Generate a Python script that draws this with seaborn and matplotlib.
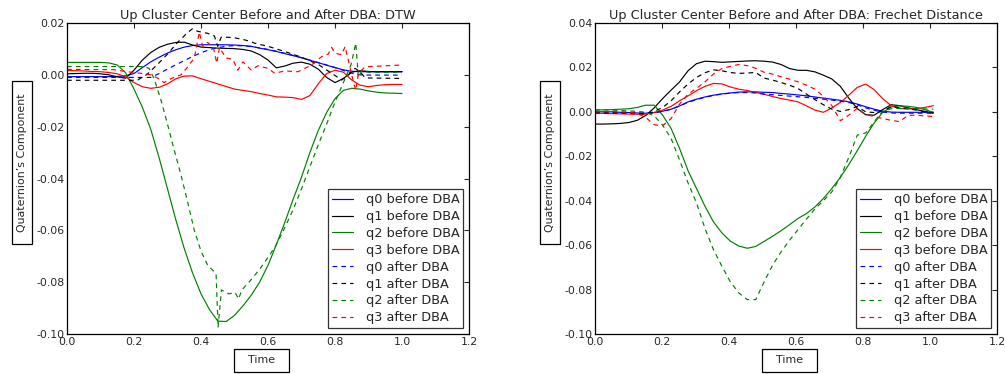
"""
Up cluster center before / after DBA (DTW vs Frechet)
"""

import matplotlib
matplotlib.use("Agg")
import matplotlib.pyplot as plt
import seaborn as sns

# ---- data ----
# shared time grid, 0 ~ 1 step 0.025 (Frechet curves run a bit past 1.0)
time_grid = [round(i * 0.025, 3) for i in range(41)]
time_grid_fr = [round(i * 0.025 * 1.01, 4) for i in range(41)]

# DTW panel
dtw_q0_before = [-0.0007, -0.0007, -0.0007, -0.0007, -0.0007, -0.0007, -0.0006, -0.0004, 0.0005, 0.0028,
                 0.0050, 0.0068, 0.0084, 0.0097, 0.0107, 0.0113, 0.0116, 0.0116, 0.0116, 0.0116,
                 0.0115, 0.0113, 0.0110, 0.0103, 0.0097, 0.0090, 0.0082, 0.0074, 0.0066, 0.0056,
                 0.0047, 0.0037, 0.0028, 0.0019, 0.0014, 0.0012, 0.0012, 0.0012, 0.0012, 0.0012,
                 0.0012]
dtw_q1_before = [0.0004, 0.0005, 0.0006, 0.0006, 0.0004, 0.0000, -0.0008, -0.0013, 0.0018, 0.0057,
                 0.0086, 0.0106, 0.0118, 0.0125, 0.0126, 0.0115, 0.0107, 0.0105, 0.0103, 0.0102,
                 0.0101, 0.0098, 0.0092, 0.0078, 0.0057, 0.0027, 0.0034, 0.0045, 0.0049, 0.0041,
                 0.0022, -0.0010, -0.0030, -0.0014, 0.0010, 0.0016, 0.0013, 0.0012, 0.0012, 0.0012,
                 0.0012]
dtw_q2_before = [0.0048, 0.0048, 0.0048, 0.0048, 0.0048, 0.0046, 0.0038, 0.0008, -0.0055, -0.0125,
                 -0.0210, -0.0320, -0.0440, -0.0560, -0.0670, -0.0765, -0.0845, -0.0905, -0.0950, -0.0952,
                 -0.0928, -0.0892, -0.0850, -0.0800, -0.0735, -0.0655, -0.0570, -0.0480, -0.0395, -0.0300,
                 -0.0215, -0.0145, -0.0092, -0.0060, -0.0052, -0.0055, -0.0062, -0.0067, -0.0070, -0.0071,
                 -0.0072]
dtw_q3_before = [0.0017, 0.0016, 0.0015, 0.0013, 0.0012, 0.0009, 0.0004, -0.0008, -0.0030, -0.0046,
                 -0.0052, -0.0048, -0.0035, -0.0015, -0.0005, -0.0004, -0.0015, -0.0025, -0.0035, -0.0045,
                 -0.0055, -0.0060, -0.0065, -0.0072, -0.0078, -0.0085, -0.0086, -0.0088, -0.0095, -0.0080,
                 -0.0035, 0.0005, 0.0018, 0.0010, -0.0020, -0.0040, -0.0046, -0.0041, -0.0038, -0.0037,
                 -0.0037]
dtw_q0_after = [-0.0010, -0.0010, -0.0010, -0.0010, -0.0010, -0.0010, -0.0010, -0.0010, -0.0010, -0.0010,
                -0.0010, 0.0005, 0.0022, 0.0039, 0.0055, 0.0071, 0.0085, 0.0097, 0.0105, 0.0110,
                0.0113, 0.0112, 0.0109, 0.0104, 0.0098, 0.0091, 0.0083, 0.0075, 0.0066, 0.0057,
                0.0047, 0.0038, 0.0028, 0.0017, 0.0006, 0.0000, -0.0001, -0.0001, -0.0001, -0.0001,
                -0.0001]
# after-DBA curves on DTW are jagged, they get their own time points
dtw_q1_after_t = [0.0, 0.21, 0.24, 0.27, 0.30, 0.33, 0.36, 0.375, 0.39, 0.42,
                  0.44, 0.45, 0.46, 0.48, 0.50, 0.53, 0.55, 0.56, 0.60, 0.65,
                  0.70, 0.75, 0.79, 0.82, 0.84, 0.86, 0.875, 0.89, 1.0]
dtw_q1_after = [-0.0021, -0.0021, 0.0003, 0.0040, 0.0080, 0.0125, 0.0163, 0.0178, 0.0168, 0.0160,
                0.0150, 0.0110, 0.0145, 0.0145, 0.0143, 0.0135, 0.0128, 0.0122, 0.0110, 0.0090,
                0.0068, 0.0040, 0.0006, -0.0020, 0.0000, 0.0025, 0.0012, -0.0012, -0.0014]
dtw_q2_after_t = [0.0, 0.23, 0.245, 0.26, 0.28, 0.30, 0.32, 0.34, 0.36, 0.38,
                  0.40, 0.42, 0.445, 0.451, 0.461, 0.483, 0.502, 0.512, 0.522, 0.55,
                  0.575, 0.60, 0.625, 0.65, 0.675, 0.70, 0.725, 0.75, 0.775, 0.80,
                  0.82, 0.835, 0.848, 0.862, 0.870, 0.88, 0.9, 1.0]
dtw_q2_after = [0.0032, 0.0032, 0.0025, -0.0015, -0.0095, -0.0190, -0.0290, -0.0385, -0.0490, -0.0600,
                -0.0680, -0.0735, -0.0767, -0.0975, -0.0830, -0.0845, -0.0840, -0.0865, -0.0830, -0.0790,
                -0.0750, -0.0705, -0.0655, -0.0590, -0.0520, -0.0440, -0.0355, -0.0270, -0.0190, -0.0105,
                -0.0045, 0.0000, 0.0040, 0.0122, -0.0010, 0.0015, 0.0010, 0.0009]
dtw_q3_after_t = [0.0, 0.14, 0.18, 0.22, 0.25, 0.27, 0.29, 0.31, 0.34, 0.36,
                  0.38, 0.395, 0.405, 0.42, 0.437, 0.447, 0.455, 0.475, 0.495, 0.51,
                  0.525, 0.55, 0.57, 0.6, 0.62, 0.65, 0.69, 0.73, 0.76, 0.78,
                  0.79, 0.80, 0.82, 0.83, 0.84, 0.856, 0.862, 0.87, 0.89, 1.0]
dtw_q3_after = [0.0021, 0.0020, 0.0012, 0.0006, 0.0000, -0.0012, -0.0030, -0.0015, 0.0000, 0.0030,
                0.0065, 0.0165, 0.0110, 0.0125, 0.0105, 0.0045, 0.0105, 0.0065, 0.0060, 0.0018,
                0.0050, 0.0018, 0.0035, 0.0025, 0.0006, 0.0015, 0.0012, 0.0038, 0.0070, 0.0080,
                0.0106, 0.0083, 0.0078, 0.0109, 0.0055, -0.0033, -0.0060, 0.0006, 0.0031, 0.0038]

# Frechet panel
fr_q0_before = [0.0000, 0.0000, 0.0000, -0.0002, -0.0003, -0.0005, -0.0006, -0.0003, 0.0003, 0.0012,
                0.0027, 0.0045, 0.0057, 0.0067, 0.0075, 0.0081, 0.0085, 0.0089, 0.0090, 0.0090,
                0.0088, 0.0087, 0.0083, 0.0080, 0.0076, 0.0072, 0.0067, 0.0062, 0.0057, 0.0052,
                0.0045, 0.0035, 0.0023, 0.0012, 0.0003, -0.0001, -0.0002, -0.0002, -0.0002, -0.0002,
                -0.0002]
fr_q1_before = [-0.0055, -0.0055, -0.0054, -0.0052, -0.0048, -0.0038, -0.0016, 0.0018, 0.0060, 0.0098,
                0.0135, 0.0185, 0.0217, 0.0228, 0.0226, 0.0223, 0.0225, 0.0227, 0.0229, 0.0230,
                0.0228, 0.0224, 0.0213, 0.0195, 0.0187, 0.0187, 0.0180, 0.0165, 0.0148, 0.0115,
                0.0062, 0.0015, -0.0013, -0.0015, 0.0010, 0.0032, 0.0028, 0.0018, 0.0010, 0.0002,
                -0.0005]
fr_q2_before = [0.0008, 0.0009, 0.0010, 0.0012, 0.0014, 0.0020, 0.0030, 0.0030, -0.0015, -0.0075,
                -0.0165, -0.0265, -0.0345, -0.0425, -0.0495, -0.0545, -0.0582, -0.0604, -0.0614, -0.0606,
                -0.0583, -0.0560, -0.0535, -0.0508, -0.0480, -0.0458, -0.0428, -0.0390, -0.0345, -0.0295,
                -0.0238, -0.0175, -0.0110, -0.0050, -0.0003, 0.0022, 0.0027, 0.0025, 0.0020, 0.0010,
                -0.0002]
fr_q3_before = [-0.0006, -0.0007, -0.0008, -0.0009, -0.0010, -0.0011, -0.0010, -0.0003, 0.0008, 0.0025,
                0.0050, 0.0072, 0.0095, 0.0115, 0.0128, 0.0126, 0.0112, 0.0102, 0.0096, 0.0087,
                0.0079, 0.0069, 0.0060, 0.0053, 0.0045, 0.0027, 0.0008, -0.0002, 0.0018, 0.0042,
                0.0075, 0.0110, 0.0125, 0.0100, 0.0060, 0.0028, 0.0015, 0.0013, 0.0015, 0.0020,
                0.0028]
fr_q0_after = [-0.0002, -0.0002, -0.0002, -0.0003, -0.0004, -0.0005, -0.0006, -0.0004, 0.0002, 0.0012,
               0.0026, 0.0043, 0.0055, 0.0066, 0.0074, 0.0080, 0.0084, 0.0087, 0.0087, 0.0085,
               0.0080, 0.0077, 0.0074, 0.0071, 0.0068, 0.0065, 0.0061, 0.0057, 0.0053, 0.0048,
               0.0042, 0.0032, 0.0018, 0.0007, -0.0001, -0.0005, -0.0006, -0.0006, -0.0006, -0.0006,
               -0.0006]
fr_q1_after = [-0.0005, -0.0005, -0.0005, -0.0006, -0.0006, -0.0008, -0.0010, 0.0002, 0.0020, 0.0050,
               0.0090, 0.0125, 0.0155, 0.0176, 0.0189, 0.0185, 0.0177, 0.0173, 0.0175, 0.0177,
               0.0152, 0.0143, 0.0132, 0.0120, 0.0105, 0.0080, 0.0055, 0.0032, 0.0012, 0.0002,
               0.0010, 0.0024, 0.0000, -0.0003, 0.0002, 0.0024, 0.0018, 0.0014, 0.0008, 0.0000,
               -0.0006]
fr_q2_after = [0.0009, 0.0009, 0.0008, 0.0006, 0.0004, 0.0002, -0.0002, -0.0018, -0.0060, -0.0120,
               -0.0217, -0.0320, -0.0410, -0.0525, -0.0620, -0.0695, -0.0765, -0.0815, -0.0845, -0.0845,
               -0.0765, -0.0690, -0.0630, -0.0578, -0.0530, -0.0483, -0.0437, -0.0400, -0.0360, -0.0295,
               -0.0205, -0.0105, -0.0095, -0.0045, 0.0003, 0.0014, 0.0016, 0.0016, 0.0015, 0.0013,
               0.0012]
fr_q3_after = [0.0000, 0.0000, 0.0000, 0.0000, -0.0001, -0.0008, -0.0025, -0.0058, -0.0062, -0.0030,
               0.0035, 0.0080, 0.0106, 0.0135, 0.0170, 0.0195, 0.0205, 0.0213, 0.0208, 0.0196,
               0.0178, 0.0170, 0.0158, 0.0147, 0.0135, 0.0120, 0.0102, 0.0070, 0.0028, -0.0040,
               -0.0015, 0.0016, -0.0012, -0.0021, -0.0030, -0.0038, -0.0044, -0.0016, -0.0015, -0.0018,
               -0.0021]

labels = ["q0 before DBA", "q1 before DBA", "q2 before DBA", "q3 before DBA",
          "q0 after DBA", "q1 after DBA", "q2 after DBA", "q3 after DBA"]
colors = ["b", "k", "g", "r", "b", "k", "g", "r"]
DASH = (0, (4, 3.5))


def draw_panel(ax, series, title, ylim, yticks):
    """一个子图: 8条曲线 + 图例 + 带框的坐标轴标签"""
    for (t, v), label, color in zip(series, labels, colors):
        ls = "-" if "before" in label else DASH
        sns.lineplot(x=t, y=v, ax=ax, color=color, linestyle=ls, linewidth=0.85,
                     label=label, sort=False, estimator=None)

    ax.set_xlim(0, 1.2)
    ax.set_ylim(*ylim)
    ax.set_xticks([0.0, 0.2, 0.4, 0.6, 0.8, 1.0, 1.2])
    ax.set_yticks(yticks)
    ax.xaxis.set_major_formatter(plt.FormatStrFormatter("%.1f"))
    ax.yaxis.set_major_formatter(plt.FormatStrFormatter("%.2f"))
    ax.tick_params(direction="in", top=True, right=True, length=3.5, width=0.8,
                   labelsize=7.8, pad=2)
    for sp in ax.spines.values():
        sp.set_color("black")
        sp.set_linewidth(0.9)

    ax.set_title(title, fontsize=9.3, pad=2.7)

    xbox = dict(boxstyle="square,pad=0.6", fc="white", ec="black", lw=0.9)
    ybox = dict(boxstyle="square,pad=0.45", fc="white", ec="black", lw=0.9)
    ax.set_xlabel("  Time  ", fontsize=7.9, bbox=xbox, va="center", ha="center")
    ax.xaxis.set_label_coords(0.484, -0.084)
    ax.set_ylabel("  Quaternion\u2019s Component  ", fontsize=7.9, bbox=ybox,
                  va="center", ha="center")
    ax.yaxis.set_label_coords(-0.113, 0.551)

    leg = ax.legend(loc="lower right", fontsize=9.3, frameon=True, fancybox=False,
                    borderpad=0.3, labelspacing=0.3, handlelength=1.6,
                    handletextpad=1.0, borderaxespad=0.45)
    leg.get_frame().set_edgecolor("black")
    leg.get_frame().set_linewidth(0.9)


sns.set_style("white")
plt.rcParams["font.family"] = ["DejaVu Sans"]
plt.rcParams["axes.unicode_minus"] = True

fig = plt.figure(figsize=(10.05, 3.74), dpi=100)
ax1 = fig.add_axes([67 / 1005, 40 / 374, 402 / 1005, 311 / 374])
ax2 = fig.add_axes([595 / 1005, 40 / 374, 402 / 1005, 311 / 374])

dtw_series = [
    (time_grid, dtw_q0_before), (time_grid, dtw_q1_before),
    (time_grid, dtw_q2_before), (time_grid, dtw_q3_before),
    (time_grid, dtw_q0_after), (dtw_q1_after_t, dtw_q1_after),
    (dtw_q2_after_t, dtw_q2_after), (dtw_q3_after_t, dtw_q3_after),
]
fr_series = [
    (time_grid_fr, fr_q0_before), (time_grid_fr, fr_q1_before),
    (time_grid_fr, fr_q2_before), (time_grid_fr, fr_q3_before),
    (time_grid_fr, fr_q0_after), (time_grid_fr, fr_q1_after),
    (time_grid_fr, fr_q2_after), (time_grid_fr, fr_q3_after),
]

draw_panel(ax1, dtw_series, "Up Cluster Center Before and After DBA: DTW",
           (-0.10, 0.02), [-0.10, -0.08, -0.06, -0.04, -0.02, 0.00, 0.02])
draw_panel(ax2, fr_series, "Up Cluster Center Before and After DBA: Frechet Distance",
           (-0.10, 0.04), [-0.10, -0.08, -0.06, -0.04, -0.02, 0.00, 0.02, 0.04])

fig.savefig("out.png", dpi=100)
plt.close(fig)
